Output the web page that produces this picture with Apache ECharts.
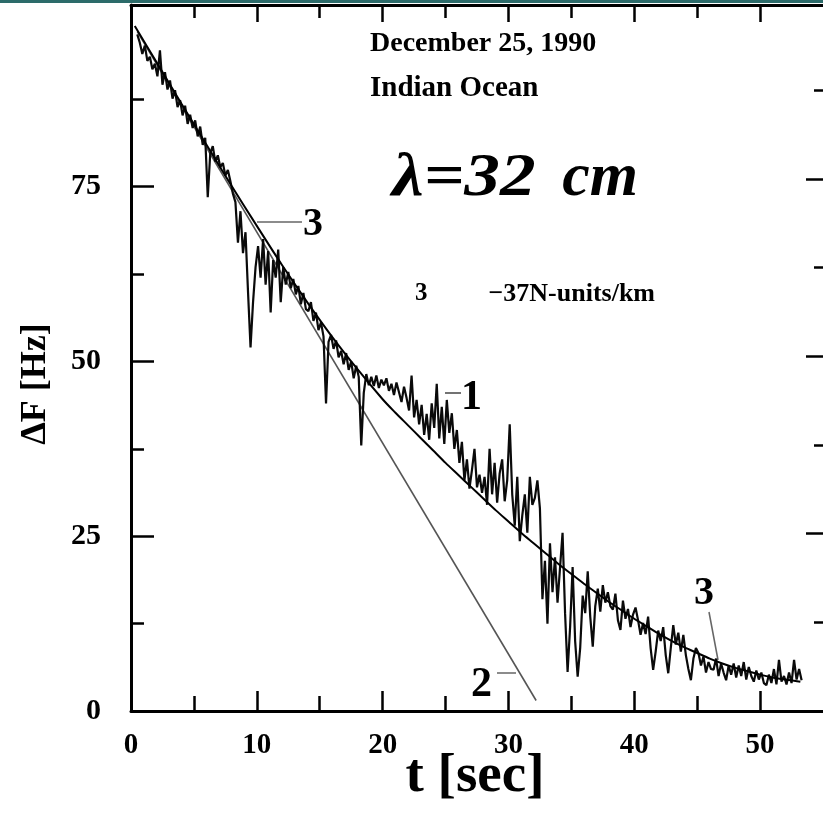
<!DOCTYPE html>
<html><head><meta charset="utf-8">
<script src="https://cdn.jsdelivr.net/npm/echarts@6/dist/echarts.min.js"></script>
<style>html,body{margin:0;padding:0;background:#fff}#c{width:823px;height:813px}</style>
</head><body><div id="c"></div>
<script>
// ---- axis ticks / labels ----
const xMajorTicks = [0, 10, 20, 30, 40, 50];
const xMinorTicks = [5, 15, 25, 35, 45];
const yMajorTicks = [0, 25, 50, 75];
const yMinorTicks = [12.5, 37.5, 62.5, 87.5];

// ---- curve 1: measured ΔF, sampled every 0.2 s from t = 0.5 s ----
const measStart = 0.5, measStep = 0.2;
const measF = [
  96.8, 95.6, 94.0, 95.2, 93.0, 93.6, 91.8, 92.6,
  90.8, 94.5, 89.6, 91.4, 88.9, 90.2, 87.6, 88.8, 86.4, 87.4,
  85.2, 86.6, 84.0, 85.3, 83.4, 84.5, 82.2, 83.6, 81.0, 82.0,
  73.5, 79.8, 80.8, 78.6, 79.5, 77.8, 78.4, 76.6, 77.4, 75.8,
  74.0, 72.8, 67.0, 71.5, 65.5, 68.5, 60.0, 52.0, 58.5, 63.5,
  66.5, 62.0, 67.5, 61.0, 65.8, 57.0, 64.5, 62.0, 66.0, 58.5,
  63.5, 61.0, 62.8, 60.5, 61.8, 59.6, 60.8, 58.2, 59.8, 57.5,
  57.2, 58.5, 55.8, 57.0, 54.5, 55.6, 53.6, 44.0, 52.8, 53.8,
  51.8, 53.0, 50.6, 51.5, 49.6, 51.2, 48.8, 50.0, 47.6, 49.4,
  47.8, 38.0, 45.5, 48.2, 46.6, 47.8, 46.5, 48.0, 46.2, 47.4,
  46.6, 47.6, 45.8, 46.8, 45.2, 47.0, 45.6, 44.2, 46.4, 44.8,
  43.0, 48.0, 42.0, 44.5, 41.0, 43.8, 39.5, 42.5, 38.8, 44.0,
  40.5, 46.8, 39.0, 43.5, 38.2, 44.5, 39.8, 42.6, 37.5, 40.2,
  35.5, 38.5, 33.0, 36.0, 31.8, 34.5, 37.5, 32.0, 33.8, 31.2,
  33.5, 29.5, 37.5, 31.0, 35.5, 29.8, 34.0, 36.0, 30.0, 33.0,
  41.0, 31.0, 26.5, 33.5, 24.3, 28.0, 31.0, 25.5, 33.5, 29.5,
  30.5, 33.0, 29.0, 16.0, 21.5, 12.5, 24.0, 17.0, 22.0, 15.5,
  20.5, 25.5, 14.0, 5.6, 12.0, 20.6, 10.0, 4.9, 9.0, 16.5,
  14.0, 20.0, 13.5, 9.2, 15.0, 17.5, 14.2, 18.0, 15.5, 17.0,
  15.0, 14.5, 16.8, 13.0, 11.6, 15.8, 13.2, 14.6, 12.0, 13.8,
  14.8, 13.0, 10.9, 12.6, 11.0, 13.5, 9.0, 5.9, 8.5, 11.5,
  10.0, 12.0, 8.0, 5.4, 9.0, 12.3, 9.5, 11.2, 8.5, 10.9,
  8.0, 6.0, 4.4, 7.5, 9.0, 8.3, 6.5, 7.8, 5.5, 7.0,
  6.0, 5.9, 7.5, 5.0, 6.8, 5.5, 4.4, 6.5, 5.2, 6.8,
  4.8, 6.5, 5.0, 7.0, 4.5, 6.3, 5.0, 4.2, 5.8, 4.5,
  5.5, 4.0, 3.7, 5.2, 4.0, 6.0, 3.8, 7.3, 4.2, 5.0,
  3.8, 5.5, 4.0, 7.3, 4.5, 6.0, 4.4
];

// ---- curve 2: straight line ----
const line2T = [0.5, 32.2];
const line2F = [97.2, 1.5];

// ---- curve 3: model fit ----
const fitT = [0.3, 2, 4, 6, 8, 10, 12, 14, 16, 18, 20, 21, 22, 23, 24, 25, 26, 27, 28, 29, 30, 31, 32, 33, 34, 35, 36, 37, 38, 39, 40, 41, 42, 43, 44, 45, 46, 47, 48, 49, 50, 51, 52, 53.2];
const fitF = [98.0, 92.9, 86.9, 81.0, 75.1, 69.4, 63.8, 58.5, 53.5, 48.9, 44.6, 42.7, 40.9, 39.1, 37.3, 35.5, 33.8, 32.1, 30.4, 28.7, 27.1, 25.5, 24.0, 22.5, 21.0, 19.6, 18.2, 16.9, 15.6, 14.4, 13.2, 12.1, 11.0, 10.0, 9.1, 8.3, 7.5, 6.8, 6.2, 5.7, 5.2, 4.8, 4.5, 4.2];

const measData = measF.map((v, i) => [+(measStart + i * measStep).toFixed(2), v]);
const line2Data = line2T.map((t, i) => [t, line2F[i]]);
const fitData = fitT.map((t, i) => [t, fitF[i]]);

const SERIF = "'Liberation Serif', 'Times New Roman', serif";
const X_MAX = 55, Y_MAX = 101;

function xAx(pos, ticks, len, showLine, labels) {
  return {
    type: 'value', position: pos, min: 0, max: X_MAX,
    axisLine: { show: showLine, onZero: false, lineStyle: { color: '#000', width: 3 } },
    axisTick: { show: true, inside: true, length: len, customValues: ticks, lineStyle: { color: '#000', width: 2.5 } },
    axisLabel: labels ? { show: true, customValues: labels, margin: 20, color: '#000', fontFamily: SERIF, fontWeight: 'bold', fontSize: 29 } : { show: false },
    splitLine: { show: false }
  };
}
function yAx(pos, max, ticks, len, showLine, labels) {
  return {
    type: 'value', position: pos, min: 0, max: max,
    axisLine: { show: showLine, onZero: false, lineStyle: { color: '#000', width: 3 } },
    axisTick: { show: true, inside: true, length: len, customValues: ticks, lineStyle: { color: '#000', width: 2.5 } },
    axisLabel: labels ? { show: true, customValues: labels, margin: 30, color: '#000', fontFamily: SERIF, fontWeight: 'bold', fontSize: 30 } : { show: false },
    splitLine: { show: false }
  };
}

const chart = echarts.init(document.getElementById('c'), null, { renderer: 'canvas' });
chart.setOption({
  backgroundColor: '#fff',
  animation: false,
  grid: { left: 131, right: 0, top: 5, bottom: 102, containLabel: false },
  xAxis: [
    xAx('bottom', xMajorTicks.slice(1), 20, true, xMajorTicks),
    xAx('bottom', xMinorTicks, 15, false, null),
    xAx('top', xMajorTicks.slice(1), 17, true, null),
    xAx('top', xMinorTicks, 13, false, null)
  ],
  yAxis: [
    yAx('left', Y_MAX, yMajorTicks.slice(1), 23, true, yMajorTicks),
    yAx('left', Y_MAX, yMinorTicks, 13, false, null),
    yAx('right', 99.5, yMajorTicks.slice(1), 17, false, null),
    yAx('right', 99.5, yMinorTicks, 9, false, null)
  ],
  series: [
    { name: '1', type: 'line', data: measData, showSymbol: false, lineStyle: { color: '#0a0a0a', width: 2.2 }, z: 3 },
    { name: '2', type: 'line', data: line2Data, showSymbol: false, lineStyle: { color: '#555', width: 1.6 }, z: 2 },
    { name: '3', type: 'line', data: fitData, showSymbol: false, smooth: 0.3, lineStyle: { color: '#000', width: 2 }, z: 4 }
  ],
  graphic: [
    { type: 'rect', shape: { x: 0, y: 0, width: 823, height: 3 }, style: { fill: '#2c6b6a' }, z: 100 },
    { type: 'text', x: 370, y: 30, style: { text: 'December 25, 1990', font: 'bold 28px ' + SERIF, fill: '#000', textVerticalAlign: 'top' } },
    { type: 'text', x: 370, y: 74, style: { text: 'Indian Ocean', font: 'bold 29px ' + SERIF, fill: '#000', textVerticalAlign: 'top' } },
    { type: 'text', x: 392, y: 148, scaleX: 1.15, style: { text: 'λ=32', font: 'italic bold 62px ' + SERIF, fill: '#000', textVerticalAlign: 'top' } },
    { type: 'text', x: 638, y: 148, style: { text: 'cm', font: 'italic bold 62px ' + SERIF, fill: '#000', textAlign: 'right', textVerticalAlign: 'top' } },
    { type: 'text', x: 415, y: 281, style: { text: '3', font: 'bold 25px ' + SERIF, fill: '#000', textVerticalAlign: 'top' } },
    { type: 'text', x: 655, y: 281, style: { text: '−37N-units/km', font: 'bold 26px ' + SERIF, fill: '#000', textAlign: 'right', textVerticalAlign: 'top' } },
    { type: 'line', shape: { x1: 257, y1: 222, x2: 302, y2: 222 }, style: { stroke: '#666', lineWidth: 1.5 } },
    { type: 'text', x: 303, y: 205, style: { text: '3', font: 'bold 40px ' + SERIF, fill: '#000', textVerticalAlign: 'top' } },
    { type: 'line', shape: { x1: 445, y1: 393, x2: 461, y2: 393 }, style: { stroke: '#444', lineWidth: 1.5 } },
    { type: 'text', x: 461, y: 377, style: { text: '1', font: 'bold 42px ' + SERIF, fill: '#000', textVerticalAlign: 'top' } },
    { type: 'line', shape: { x1: 497, y1: 673, x2: 516, y2: 673 }, style: { stroke: '#666', lineWidth: 1.5 } },
    { type: 'text', x: 471, y: 664, style: { text: '2', font: 'bold 42px ' + SERIF, fill: '#000', textVerticalAlign: 'top' } },
    { type: 'line', shape: { x1: 709, y1: 612, x2: 718, y2: 660 }, style: { stroke: '#666', lineWidth: 1.5 } },
    { type: 'text', x: 694, y: 574, style: { text: '3', font: 'bold 40px ' + SERIF, fill: '#000', textVerticalAlign: 'top' } },
    { type: 'text', x: 475, y: 777, style: { text: 't [sec]', font: 'bold 55px ' + SERIF, fill: '#000', textAlign: 'center', textVerticalAlign: 'middle' } },
    { type: 'text', x: 36, y: 384, rotation: Math.PI / 2, style: { text: 'ΔF [Hz]', font: 'bold 36px ' + SERIF, fill: '#000', textAlign: 'center', textVerticalAlign: 'middle' } }
  ]
});
</script>
</body></html>
